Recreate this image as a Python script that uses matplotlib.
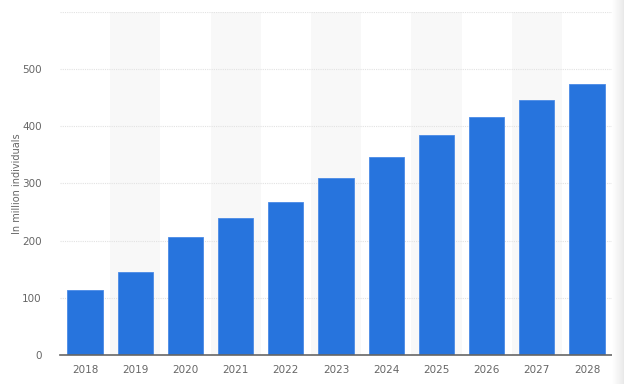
import numpy as np
import matplotlib.pyplot as plt

years = ["2018", "2019", "2020", "2021", "2022", "2023", "2024", "2025", "2026", "2027", "2028"]
users = [114, 146, 207, 240, 268, 309, 347, 384, 416, 446, 474]
yticks = [0, 100, 200, 300, 400, 500, 600]
ytick_labels = ["0", "100", "200", "300", "400", "500", ""]

fig = plt.figure(figsize=(6.24, 3.84), dpi=100)
ax = fig.add_axes([0.096, 0.0755, 0.885, 0.8935])

x = np.arange(len(years))

# alternating column shading
for i in x[1::2]:
    ax.axvspan(i - 0.5, i + 0.5, color="#f8f8f8", zorder=0, lw=0)

ax.bar(x, users, width=0.7, color="#2774dd", edgecolor="#4a8ae6", linewidth=0.6, zorder=3)

ax.set_xlim(-0.5, len(years) - 0.5)
ax.set_ylim(0, 600)
ax.set_yticks(yticks)
ax.set_yticklabels(ytick_labels)
ax.set_xticks(x)
ax.set_xticklabels(years)

ax.grid(axis="y", color="#e2e2e2", linestyle=(0, (1, 1)), linewidth=0.8, zorder=1)
for s in ["top", "right", "left"]:
    ax.spines[s].set_visible(False)
ax.spines["bottom"].set_color("#666666")
ax.spines["bottom"].set_linewidth(1.2)
ax.spines["bottom"].set_zorder(4)

ax.tick_params(axis="both", length=0, colors="#666666", labelsize=7.5)
ax.tick_params(axis="y", pad=13)
ax.tick_params(axis="x", pad=7)

ax.set_ylabel("In million individuals", fontsize=7, color="#666666", labelpad=4)
ax.yaxis.set_label_coords(-0.068, 0.5)

# light shadow at the right edge of the screenshot
sh = fig.add_axes([612 / 624, 0, 12 / 624, 1])
grad = np.linspace(0, 1, 50).reshape(1, -1)
sh.imshow(grad, aspect="auto", cmap="Greys", vmin=0, vmax=6, extent=[0, 1, 0, 1])
sh.axis("off")

fig.savefig("out.png", dpi=100)
